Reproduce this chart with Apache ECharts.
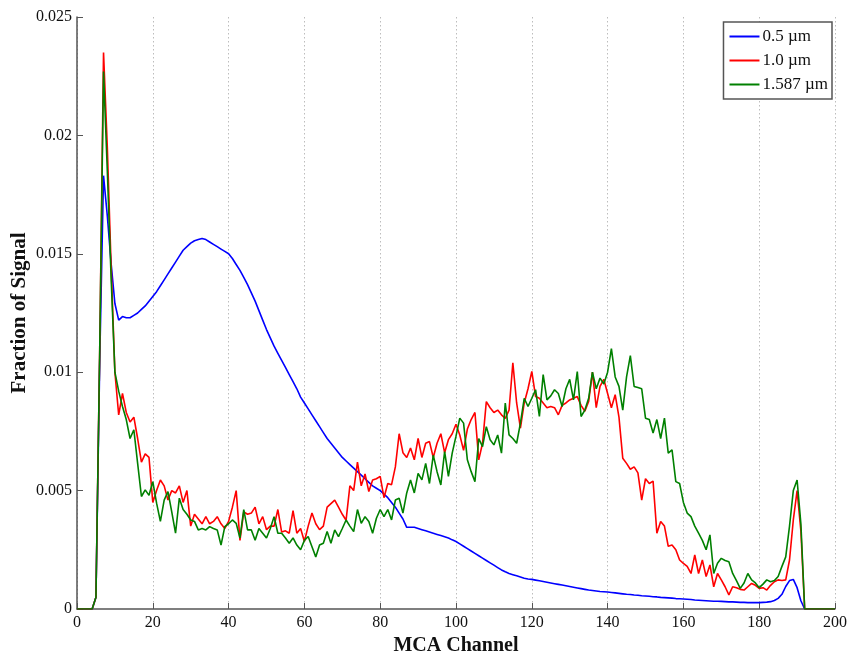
<!DOCTYPE html>
<html>
<head>
<meta charset="utf-8">
<script src="https://cdn.jsdelivr.net/npm/echarts@6/dist/echarts.min.js"></script>
<style>html,body{margin:0;padding:0;background:#fff}#c{width:848px;height:652px}</style>
</head>
<body>
<div id="c"></div>
<script>
// values in units of 0.001 (fraction of signal), one per MCA channel 0..200
const seriesNames = ['0.5 \u00b5m', '1.0 \u00b5m', '1.587 \u00b5m'];
const xTicks = [0, 20, 40, 60, 80, 100, 120, 140, 160, 180, 200];
const yTicks = [0, 0.005, 0.01, 0.015, 0.02, 0.025];

const blue = [
0,0,0,0,0,0.5,10.5,18.3,16.6,14.6,
12.9,12.2,12.35,12.3,12.3,12.4,12.5,12.65,12.8,13.0,
13.2,13.4,13.65,13.9,14.15,14.4,14.65,14.9,15.15,15.3,
15.45,15.55,15.6,15.65,15.6,15.5,15.4,15.3,15.2,15.1,
15.0,14.8,14.55,14.3,14.0,13.7,13.35,13.0,12.6,12.2,
11.8,11.45,11.1,10.8,10.5,10.2,9.9,9.6,9.3,8.95,
8.7,8.45,8.2,7.95,7.7,7.45,7.2,7.0,6.8,6.6,
6.4,6.25,6.1,5.95,5.8,5.65,5.5,5.35,5.2,5.1,
5.0,4.85,4.7,4.5,4.3,4.05,3.8,3.45,3.45,3.45,
3.4,3.35,3.3,3.25,3.2,3.15,3.1,3.05,3.0,2.92,
2.85,2.75,2.65,2.55,2.45,2.35,2.25,2.15,2.05,1.95,
1.85,1.75,1.65,1.57,1.5,1.45,1.4,1.35,1.3,1.27,
1.25,1.22,1.19,1.16,1.13,1.1,1.07,1.04,1.01,0.98,
0.95,0.92,0.89,0.86,0.83,0.8,0.78,0.76,0.74,0.73,
0.72,0.7,0.68,0.66,0.64,0.62,0.61,0.59,0.58,0.56,
0.55,0.54,0.52,0.51,0.49,0.48,0.47,0.46,0.44,0.43,
0.42,0.41,0.4,0.38,0.37,0.36,0.35,0.34,0.33,0.33,
0.32,0.31,0.3,0.3,0.29,0.28,0.28,0.27,0.27,0.27,
0.27,0.28,0.29,0.31,0.36,0.45,0.62,0.95,1.2,1.25,
0.9,0.35,0,0,0,0,0,0,0,0,
0];

const red = [
0,0,0,0,0,0.5,11,23.5,19.5,14.5,
10.0,8.2,9.1,8.3,7.9,8.1,7.2,6.2,6.55,6.4,
4.5,5.0,5.45,5.2,4.6,5.0,4.9,5.2,4.5,5.0,
3.5,4.0,3.8,3.6,3.9,3.6,3.7,3.9,3.6,3.4,
3.7,4.3,5.0,2.9,4.1,4.0,4.05,4.3,3.6,3.9,
3.35,3.5,3.5,4.2,3.25,3.3,3.2,4.15,3.2,3.4,
2.85,3.5,4.05,3.6,3.35,3.5,4.3,4.45,4.6,4.3,
4.0,3.75,5.2,5.0,6.2,5.2,5.7,4.96,5.45,5.5,
5.6,4.7,5.3,5.25,6.0,7.4,6.6,6.4,6.8,6.3,
7.2,6.4,7.0,7.07,6.4,7.0,7.4,6.6,7.15,7.4,
7.8,7.35,6.7,7.6,8.0,8.3,6.3,7.0,8.76,8.5,
8.3,8.4,8.2,8.05,8.4,10.4,8.7,7.64,8.7,9.3,
10.03,8.97,8.9,8.7,8.5,8.55,8.5,8.2,8.6,8.7,
8.83,8.9,8.97,8.6,8.35,8.76,10.0,8.5,9.4,9.7,
9.1,8.5,9.05,8.1,6.37,6.15,5.9,6.0,5.75,4.6,
5.5,5.3,5.4,3.2,3.7,3.5,2.65,2.7,2.5,2.07,
1.93,1.8,1.5,2.28,1.5,2.07,1.37,1.86,0.94,1.5,
1.23,0.94,0.6,0.94,0.9,0.83,0.8,0.94,1.08,1.0,
0.87,0.9,0.8,1.0,1.15,1.23,1.2,1.23,2.07,3.76,
5.0,3.3,0,0,0,0,0,0,0,0,
0];

const green = [
0,0,0,0,0,0.5,11,22.7,18.5,14.0,
10.0,9.2,8.55,8.0,7.2,7.57,6.15,4.75,5.03,4.8,
5.38,4.47,3.7,4.6,4.96,4.1,3.2,4.68,4.2,4.0,
3.76,3.7,3.34,3.4,3.34,3.48,3.4,3.34,2.7,3.48,
3.6,3.76,3.62,3.0,4.2,3.34,3.34,2.9,3.4,3.2,
3.0,3.4,3.9,3.2,3.2,3.0,2.78,3.0,2.7,2.5,
2.9,3.06,2.63,2.2,2.7,2.78,3.27,2.78,3.34,3.06,
3.4,3.76,3.5,3.27,4.2,3.62,3.9,3.7,3.2,3.83,
4.2,3.9,4.2,3.76,4.6,4.68,4.05,4.9,5.45,4.9,
5.73,5.45,6.15,5.3,6.5,5.8,5.24,6.65,5.6,6.58,
7.3,8.06,7.85,6.3,5.8,5.38,7.2,6.86,7.7,7.15,
6.93,7.35,6.58,8.7,7.35,7.2,7.0,7.85,8.9,8.55,
8.9,9.26,8.13,9.9,8.83,9.0,9.26,9.1,8.55,9.3,
9.7,8.83,10.03,8.13,8.4,8.9,10.0,9.3,9.75,9.5,
10.0,11.0,9.8,9.4,8.4,9.8,10.7,9.4,9.35,9.3,
8.06,8.0,7.43,8.0,7.2,8.06,6.58,6.72,5.38,5.3,
4.5,4.05,3.9,3.5,3.2,2.9,2.5,3.13,1.5,1.93,
2.14,2.05,2.0,1.5,1.2,0.87,1.1,1.5,1.23,1.1,
0.9,1.05,1.23,1.15,1.2,1.37,1.8,2.2,3.5,5.0,
5.45,3.6,0,0,0,0,0,0,0,0,
0];

const channels = blue.map((_, i) => i);
function pairs(arr) { return arr.map((v, i) => [channels[i], v / 1000]); }

const FONT = '"Liberation Serif", "DejaVu Serif", serif';
const chart = echarts.init(document.getElementById('c'), null, { renderer: 'canvas' });
const colors = ['#0000ff', '#ff0000', '#008000'];
const datas = [blue, red, green];

chart.setOption({
  animation: false,
  backgroundColor: '#ffffff',
  grid: { left: 77, right: 13, top: 17, bottom: 43, containLabel: false, outerBoundsMode: 'none' },
  legend: {
    orient: 'vertical',
    right: 16, top: 22,
    padding: [6, 4, 6, 6],
    itemGap: 7,
    itemWidth: 30, itemHeight: 18,
    backgroundColor: '#ffffff',
    borderColor: '#555555', borderWidth: 1.5, borderRadius: 0,
    textStyle: { fontFamily: FONT, fontSize: 17, color: '#111', padding: [0, 0, 0, -2] },
    data: seriesNames.map((n, i) => ({ name: n, icon: 'path://M0,9 L30,9 L30,11 L0,11 Z', itemStyle: { color: colors[i] } }))
  },
  xAxis: {
    type: 'value', min: 0, max: 200, interval: 20,
    name: 'MCA Channel', nameLocation: 'middle', nameGap: 25,
    nameTextStyle: { fontFamily: FONT, fontSize: 20, fontWeight: 'bold', color: '#111' },
    axisLine: { show: true, onZero: false, lineStyle: { color: '#555', width: 1.5 } },
    axisTick: { show: true, inside: true, length: 6, lineStyle: { color: '#555' } },
    axisLabel: { fontFamily: FONT, fontSize: 16, color: '#111', margin: 6,
      formatter: v => xTicks.includes(v) ? String(v) : '' },
    splitLine: { show: true, lineStyle: { color: '#bdbdbd', type: [1.5, 2.5], width: 1 } }
  },
  yAxis: {
    type: 'value', min: 0, max: 0.025, interval: 0.005,
    name: 'Fraction of Signal', nameLocation: 'middle', nameGap: 47, nameRotate: 90,
    nameMoveOverlap: false,
    nameTextStyle: { fontFamily: FONT, fontSize: 21, fontWeight: 'bold', color: '#111' },
    axisLine: { show: true, lineStyle: { color: '#555', width: 1.5 } },
    axisTick: { show: true, inside: true, length: 6, lineStyle: { color: '#555' } },
    axisLabel: { fontFamily: FONT, fontSize: 16, color: '#111', margin: 5,
      formatter: v => { const t = yTicks.find(y => Math.abs(y - v) < 1e-9); return t === undefined ? '' : String(t); } },
    splitLine: { show: false }
  },
  series: datas.map((d, i) => ({
    name: seriesNames[i], type: 'line', data: pairs(d),
    symbol: 'none', showSymbol: false,
    lineStyle: { color: colors[i], width: 1.6 },
    itemStyle: { color: colors[i] },
    z: 2 + i
  }))
});
</script>
</body>
</html>
